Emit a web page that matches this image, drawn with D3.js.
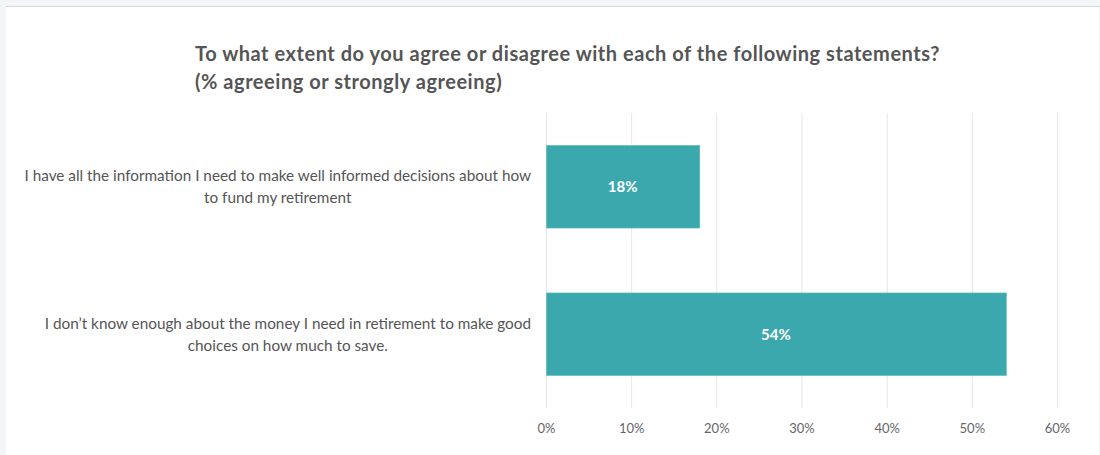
<!DOCTYPE html>
<html>
<head>
<meta charset="utf-8">
<script src="https://cdn.jsdelivr.net/npm/d3@7"></script>
<style>
  html, body { margin: 0; padding: 0; background: #f2f6f7; }
  svg { display: block; }
</style>
</head>
<body>
<svg id="chart" width="1100" height="455"></svg>
<script>
// Survey statements and share agreeing
const statements = [
  ["I have all the information I need to make well informed decisions about how", "to fund my retirement"],
  ["I don\u2019t know enough about the money I need in retirement to make good", "choices on how much to save."]
];
const agreeShare = [18, 54];
const tickValues = [0, 10, 20, 30, 40, 50, 60];
const titleLines = [
  "To what extent do you agree or disagree with each of the following statements?",
  "(% agreeing or strongly agreeing)"
];

const W = 1100, H = 455;
const margin = { top: 113, right: 43, bottom: 47, left: 546 };
const fontFamily = "Lato, 'Open Sans', 'Noto Sans', sans-serif";

const svg = d3.select("#chart");

// page frame: light grey strip on top/left, white card
svg.append("rect").attr("x", 0).attr("y", 0).attr("width", W).attr("height", H).attr("fill", "#f2f6f7");
svg.append("rect").attr("x", 6).attr("y", 7).attr("width", W - 7).attr("height", H - 7).attr("fill", "#ffffff");
svg.append("line").attr("x1", 6).attr("x2", W).attr("y1", 6.5).attr("y2", 6.5)
  .attr("stroke", "#d3d9dc").attr("stroke-width", 1);

const x = d3.scaleLinear().domain([0, 60]).range([margin.left, W - margin.right]);
const y = d3.scaleBand().domain(d3.range(statements.length))
  .range([margin.top, H - margin.bottom]).paddingInner(0.44).paddingOuter(0.22);

// vertical grid lines
svg.append("g").selectAll("line").data(tickValues).join("line")
  .attr("x1", d => x(d) + 0.5).attr("x2", d => x(d) + 0.5)
  .attr("y1", margin.top).attr("y2", H - margin.bottom)
  .attr("stroke", "#e6e6e6").attr("stroke-width", 1);

// x axis labels
const xAxis = d3.axisBottom(x).tickValues(tickValues).tickFormat(d => d + "%").tickSize(0).tickPadding(16);
const gx = svg.append("g").attr("transform", `translate(0,${H - margin.bottom})`).call(xAxis);
gx.select(".domain").remove();
gx.selectAll("text").attr("font-family", fontFamily).attr("font-size", 13).attr("fill", "#666666");

// bars
svg.append("g").selectAll("rect").data(agreeShare).join("rect")
  .attr("x", x(0) + 0.5)
  .attr("y", (d, i) => y(i))
  .attr("width", d => x(d) - x(0))
  .attr("height", y.bandwidth())
  .attr("fill", "#3aa8ac")
  .attr("stroke", "#5fbcbf").attr("stroke-width", 0.6);

// value labels inside bars
svg.append("g").selectAll("text").data(agreeShare).join("text")
  .attr("x", d => (x(0) + x(d)) / 2)
  .attr("y", (d, i) => y(i) + y.bandwidth() / 2)
  .attr("dy", "0.35em")
  .attr("text-anchor", "middle")
  .attr("font-family", fontFamily).attr("font-size", 15).attr("font-weight", 700)
  .attr("fill", "#ffffff")
  .text(d => d + "%");

// category labels: centred block whose widest line ends next to the axis
const labelRight = margin.left - 15;
statements.forEach((lines, i) => {
  const g = svg.append("g");
  const texts = lines.map((ln, k) => g.append("text")
    .attr("font-family", fontFamily).attr("font-size", 15.3).attr("fill", "#555555")
    .attr("text-anchor", "middle")
    .attr("y", y(i) + y.bandwidth() / 2 + (k - (lines.length - 1) / 2) * 22)
    .attr("dy", "0.35em")
    .text(ln));
  const maxW = d3.max(texts, t => t.node().getComputedTextLength());
  texts.forEach(t => t.attr("x", labelRight - maxW / 2));
});

// title, spaced out so the first line spans the plot width
const title = svg.append("g").attr("font-family", fontFamily).attr("font-weight", 700)
  .attr("font-size", 20).attr("fill", "#555555");
const titleTexts = titleLines.map((ln, k) =>
  title.append("text").attr("x", 195).attr("y", 61 + k * 28).text(ln));
const firstW = titleTexts[0].node().getComputedTextLength();
const spacing = (745 - firstW) / titleLines[0].length;
titleTexts.forEach(t => t.attr("letter-spacing", spacing));
</script>
</body>
</html>
